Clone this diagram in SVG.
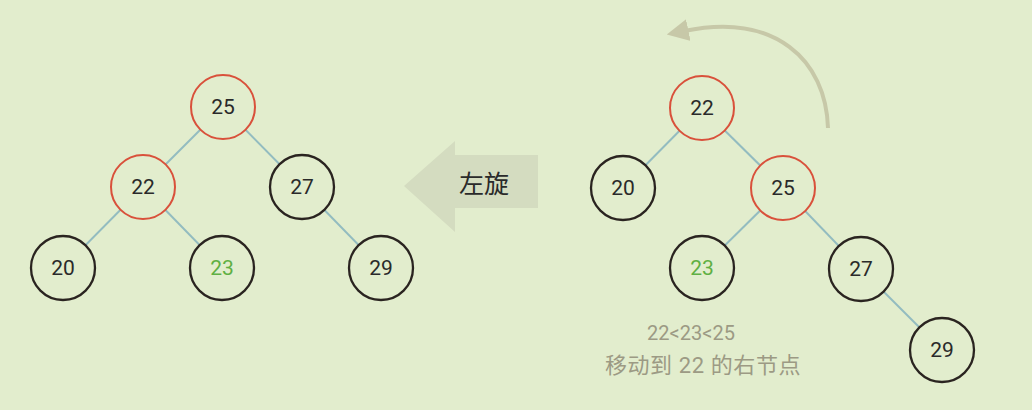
<svg xmlns="http://www.w3.org/2000/svg" width="1032" height="410" viewBox="0 0 1032 410">
<style>
.bg{fill:#e2edcd}
.edge{stroke:#93bcc0;stroke-width:2;fill:none}
.red{fill:#e2edcd;stroke:#d9513b;stroke-width:2}
.blk{fill:#e2edcd;stroke:#2a2420;stroke-width:2.3}
.num{font-family:Roboto,"Liberation Sans",sans-serif;font-size:21px;fill:#2a2a2a;text-anchor:middle;dominant-baseline:central}
.grn{fill:#5fb043}
.note{font-family:Roboto,"Noto Sans CJK SC",sans-serif;font-size:20px;fill:#9c9a84;text-anchor:middle}
.note2{font-size:22px;letter-spacing:0.6px}
</style>
<defs>
<marker id="ah" viewBox="0 0 10 10" refX="2" refY="5" markerWidth="5.5" markerHeight="5.5" orient="auto" markerUnits="strokeWidth">
<path d="M0,0 L10,5 L0,10 z" fill="#c7c8a8"/>
</marker>
</defs>
<rect class="bg" x="0" y="0" width="1032" height="410"/>
<g id="connectors">
<line class="edge" x1="223" y1="107" x2="143" y2="187"/>
<line class="edge" x1="223" y1="107" x2="302" y2="187"/>
<line class="edge" x1="143" y1="187" x2="63" y2="268"/>
<line class="edge" x1="143" y1="187" x2="222" y2="268"/>
<line class="edge" x1="302" y1="187" x2="381" y2="268"/>
<line class="edge" x1="702" y1="108" x2="623" y2="188"/>
<line class="edge" x1="702" y1="108" x2="783" y2="188"/>
<line class="edge" x1="783" y1="188" x2="702" y2="268"/>
<line class="edge" x1="783" y1="188" x2="861" y2="269"/>
<line class="edge" x1="861" y1="269" x2="942" y2="350"/>
</g>
<g id="rotate-arrow">
<path d="M455,141 L404,186 L455,232 L455,208 L538,208 L538,155 L455,155 Z" fill="#d4dcc0"/>
<text x="484" y="193" font-family="'Noto Sans CJK SC',sans-serif" font-size="25" fill="#2a2a2a" text-anchor="middle">左旋</text>
</g>
<g id="curve-arrow">
<path d="M828,128 C826,60 775,12 684,31" stroke="#c7c8a8" stroke-width="4" fill="none" marker-end="url(#ah)"/>
</g>
<g id="L25"><circle class="red" cx="223" cy="107" r="32"/><text class="num" x="223" y="107">25</text></g>
<g id="L22"><circle class="red" cx="143" cy="187" r="32"/><text class="num" x="143" y="187">22</text></g>
<g id="L27"><circle class="blk" cx="302" cy="187" r="32"/><text class="num" x="302" y="187">27</text></g>
<g id="L20"><circle class="blk" cx="63" cy="268" r="32"/><text class="num" x="63" y="268">20</text></g>
<g id="L23"><circle class="blk" cx="222" cy="268" r="32"/><text class="num grn" x="222" y="268">23</text></g>
<g id="L29"><circle class="blk" cx="381" cy="268" r="32"/><text class="num" x="381" y="268">29</text></g>
<g id="R22"><circle class="red" cx="702" cy="108" r="32"/><text class="num" x="702" y="108">22</text></g>
<g id="R20"><circle class="blk" cx="623" cy="188" r="32"/><text class="num" x="623" y="188">20</text></g>
<g id="R25"><circle class="red" cx="783" cy="188" r="32"/><text class="num" x="783" y="188">25</text></g>
<g id="R23"><circle class="blk" cx="702" cy="268" r="32"/><text class="num grn" x="702" y="268">23</text></g>
<g id="R27"><circle class="blk" cx="861" cy="269" r="32"/><text class="num" x="861" y="269">27</text></g>
<g id="R29"><circle class="blk" cx="942" cy="350" r="32"/><text class="num" x="942" y="350">29</text></g>
<g id="note">
<text class="note" x="691" y="340">22&lt;23&lt;25</text>
<text class="note note2" x="703" y="373">移动到 22 的右节点</text>
</g>
</svg>
